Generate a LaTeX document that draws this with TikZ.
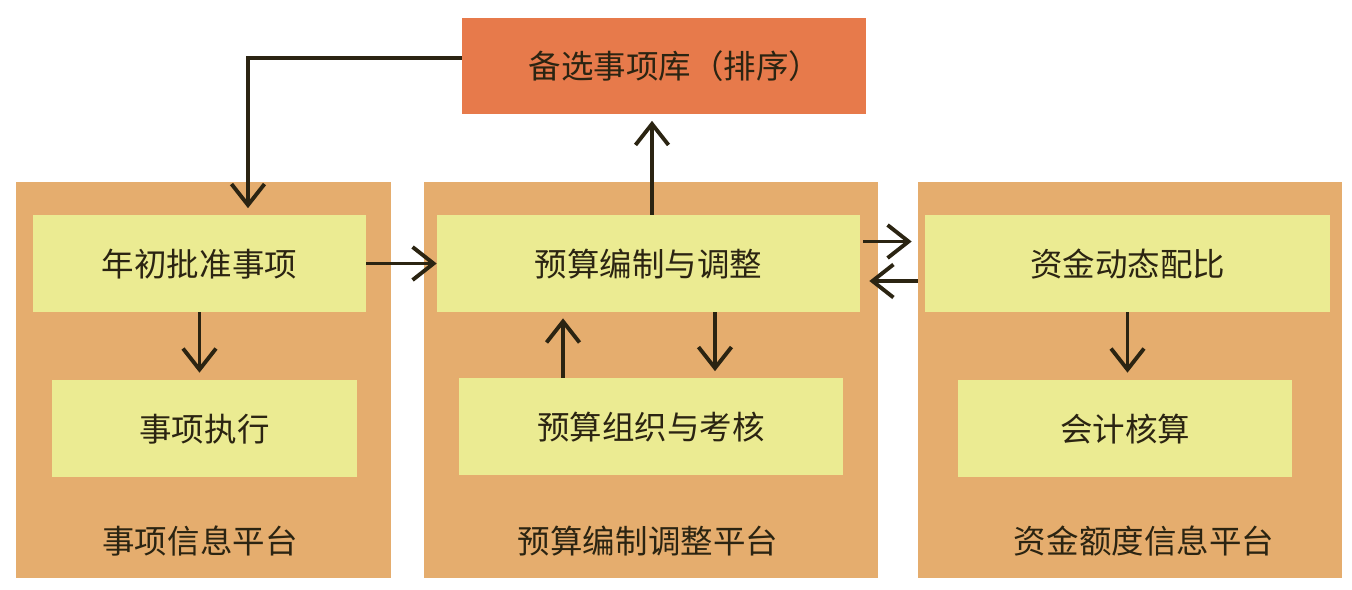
\documentclass[tikz,border=0pt]{standalone}
\usepackage{fontspec}
\setmainfont{Noto Sans CJK SC}
\usetikzlibrary{arrows.meta,positioning}
\definecolor{plat}{HTML}{E5AD6E}
\definecolor{item}{HTML}{EBEB92}
\definecolor{pool}{HTML}{E77A4B}
\definecolor{ink}{HTML}{2B2412}
\def\darr{\draw[arr]}

\begin{document}
\begin{tikzpicture}[x=0.02cm,y=-0.02cm,
    box/.style={rectangle,inner sep=0pt,text=ink,font=\fontsize{18.5}{22}\selectfont},
    platbox/.style={box,fill=plat,minimum height=7.92cm},
    itembox/.style={box,fill=item,minimum height=1.94cm,text height=1.5em,text depth=0pt},
    arr/.style={ink,line width=2.2pt,-{Straight Barb[length=0.42cm,width=0.66cm]},shorten >=0.13cm}]
    \useasboundingbox (0,0) rectangle (1352,589);
    \node[platbox,minimum width=7.5cm]  (pl) at (203.5,380) {};
    \node[platbox,minimum width=9.08cm] (pm) at (651,380) {};
    \node[platbox,minimum width=8.48cm] (pr) at (1130,380) {};
    \node[box,fill=pool,minimum width=8.08cm,minimum height=1.92cm] (pool) at (664,66) {\hspace*{0.44cm}备选事项库（排序）};
    \node[itembox,minimum width=6.66cm] (a1) at (199.5,263.5) {年初批准事项};
    \node[itembox,minimum width=6.1cm]  (a2) at (204.5,428) {事项执行};
    \node[itembox,minimum width=8.46cm] (b1) at (648.5,263.5) {预算编制与调整};
    \node[itembox,minimum width=7.68cm] (b2) at (651,426.5) {预算组织与考核};
    \node[itembox,minimum width=8.1cm]  (c1) at (1127.5,263.5) {资金动态配比};
    \node[itembox,minimum width=6.68cm] (c2) at (1125,428) {会计核算};
    \node[box] (lpl) at (200,541) {事项信息平台};
    \node[box] (lpm) at (648,541) {预算编制调整平台};
    \node[box] (lpr) at (1144,541) {资金额度信息平台};
    \darr ([yshift=0.16cm]pool.west) -| ([xshift=0.97cm]a1.north);
    \darr[shorten >=0pt] (a1.east) -- (b1.west);
    \darr ([xshift=0.07cm]b1.north) -- ([xshift=0.07cm]b1.north |- pool.south);
    \darr[shorten <=0.06cm,shorten >=0.26cm] ([yshift=0.44cm]b1.east) -- ([yshift=0.44cm]c1.west);
    \darr[shorten >=0.18cm] ([yshift=-0.35cm,xshift=-0.14cm]c1.west) -- ([yshift=-0.35cm]b1.east);
    \darr (a1.south) -- (a1.south |- a2.north);
    \darr[shorten >=0.12cm] ([xshift=-1.76cm]b2.north) -- ([xshift=-1.76cm]b2.north |- b1.south);
    \darr ([xshift=1.33cm]b1.south) -- ([xshift=1.33cm]b1.south |- b2.north);
    \darr (c1.south) -- (c1.south |- c2.north);
\end{tikzpicture}
\end{document}
